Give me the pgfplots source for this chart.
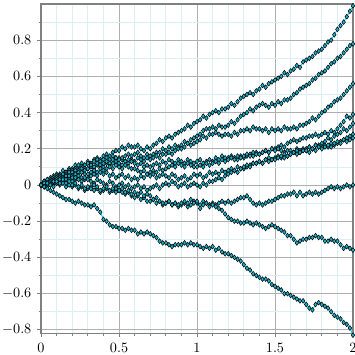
\documentclass[border=0pt]{standalone}
\usepackage{pgfplots}
\pgfplotsset{compat=1.18}
\usepackage{pgfplotstable}
\definecolor{lncol}{RGB}{0,200,230}
\definecolor{mkcol}{RGB}{30,175,200}
\definecolor{majg}{RGB}{175,175,175}
\definecolor{ming}{RGB}{222,238,245}
\definecolor{axg}{RGB}{128,128,128}
\pgfplotstableread{
x p1 p2 p3 p4 p5 p6 p7 p8 p9 p10
0.00 0 0 0 0 0 0 0 0 0 0
0.02 0.02 0.01 0.00 0.02 0.01 -0.01 0.02 0.01 -0.01 -0.01
0.04 0.01 0.03 0.02 0.01 0.03 0.01 0.00 -0.01 0.01 -0.02
0.06 0.04 0.02 0.01 0.03 0.02 0.02 0.01 0.00 0.00 -0.03
0.08 0.05 0.04 0.03 0.02 0.01 0.01 -0.01 0.02 0.02 -0.04
0.10 0.06 0.05 0.03 0.04 0.02 0.03 0.01 0.01 0.02 -0.05
0.12 0.05 0.06 0.05 0.05 0.04 0.02 0.03 0.00 0.01 -0.06
0.14 0.08 0.05 0.04 0.06 0.03 0.04 0.02 0.01 0.03 -0.07
0.16 0.07 0.07 0.06 0.05 0.05 0.03 0.01 -0.01 0.01 -0.08
0.18 0.09 0.08 0.05 0.07 0.04 0.05 0.03 0.00 0.02 -0.08
0.20 0.09 0.08 0.06 0.07 0.05 0.04 0.02 -0.01 0.00 -0.09
0.22 0.11 0.09 0.07 0.08 0.06 0.03 0.04 0.00 0.01 -0.10
0.24 0.10 0.11 0.08 0.07 0.05 0.05 0.03 -0.02 -0.01 -0.09
0.26 0.12 0.10 0.07 0.09 0.07 0.04 0.02 -0.01 0.00 -0.10
0.28 0.11 0.11 0.09 0.08 0.06 0.03 0.04 -0.03 -0.02 -0.11
0.30 0.13 0.12 0.09 0.09 0.06 0.04 0.03 -0.02 -0.01 -0.11
0.32 0.12 0.11 0.10 0.11 0.07 0.05 0.02 -0.01 -0.02 -0.12
0.34 0.14 0.13 0.09 0.10 0.08 0.06 0.01 -0.03 0.00 -0.11
0.36 0.15 0.14 0.11 0.12 0.07 0.05 0.03 -0.02 -0.01 -0.13
0.38 0.14 0.13 0.10 0.11 0.09 0.07 0.02 -0.04 -0.03 -0.15
0.40 0.16 0.14 0.10 0.12 0.08 0.06 0.01 -0.03 -0.02 -0.19
0.42 0.17 0.15 0.12 0.13 0.09 0.07 0.00 -0.02 -0.01 -0.20
0.44 0.16 0.14 0.11 0.12 0.10 0.05 0.02 -0.04 -0.03 -0.22
0.46 0.18 0.16 0.12 0.14 0.09 0.06 0.01 -0.03 -0.02 -0.23
0.48 0.19 0.15 0.13 0.15 0.11 0.04 -0.01 -0.02 -0.04 -0.23
0.50 0.19 0.15 0.12 0.14 0.10 0.05 0.00 -0.03 -0.03 -0.24
0.52 0.21 0.14 0.11 0.15 0.09 0.06 0.01 -0.04 -0.02 -0.24
0.54 0.20 0.16 0.13 0.13 0.11 0.04 -0.01 -0.05 -0.04 -0.25
0.56 0.22 0.17 0.12 0.14 0.10 0.05 0.00 -0.04 -0.03 -0.24
0.58 0.21 0.16 0.14 0.13 0.09 0.03 -0.02 -0.06 -0.05 -0.25
0.60 0.21 0.17 0.13 0.12 0.09 0.04 -0.01 -0.07 -0.04 -0.25
0.62 0.22 0.18 0.15 0.11 0.08 0.03 0.00 -0.06 -0.05 -0.27
0.64 0.20 0.16 0.14 0.12 0.07 0.05 -0.02 -0.08 -0.04 -0.26
0.66 0.19 0.15 0.13 0.10 0.08 0.04 -0.01 -0.07 -0.06 -0.27
0.68 0.21 0.17 0.15 0.11 0.06 0.06 -0.03 -0.09 -0.05 -0.26
0.70 0.20 0.16 0.14 0.10 0.07 0.05 -0.02 -0.09 -0.06 -0.27
0.72 0.22 0.17 0.15 0.11 0.08 0.06 -0.01 -0.08 -0.08 -0.28
0.74 0.23 0.18 0.16 0.12 0.07 0.04 0.00 -0.10 -0.07 -0.29
0.76 0.25 0.18 0.15 0.11 0.09 0.05 -0.02 -0.09 -0.09 -0.31
0.78 0.24 0.20 0.17 0.13 0.08 0.06 0.00 -0.11 -0.10 -0.32
0.80 0.26 0.19 0.17 0.12 0.09 0.05 0.01 -0.10 -0.10 -0.32
0.82 0.27 0.21 0.18 0.14 0.10 0.04 0.00 -0.09 -0.09 -0.33
0.84 0.26 0.20 0.17 0.13 0.11 0.06 0.02 -0.11 -0.11 -0.34
0.86 0.28 0.22 0.19 0.12 0.10 0.05 0.01 -0.10 -0.10 -0.33
0.88 0.29 0.21 0.20 0.14 0.12 0.03 -0.01 -0.12 -0.11 -0.33
0.90 0.30 0.22 0.20 0.13 0.11 0.04 0.00 -0.11 -0.10 -0.33
0.92 0.31 0.24 0.21 0.12 0.10 0.05 0.01 -0.10 -0.09 -0.32
0.94 0.33 0.23 0.23 0.14 0.12 0.03 -0.01 -0.12 -0.10 -0.33
0.96 0.32 0.25 0.22 0.13 0.11 0.04 0.00 -0.11 -0.08 -0.32
0.98 0.34 0.26 0.23 0.12 0.10 0.06 0.01 -0.09 -0.10 -0.33
1.00 0.35 0.27 0.24 0.13 0.10 0.05 0.00 -0.10 -0.09 -0.33
1.02 0.36 0.28 0.25 0.14 0.11 0.06 -0.01 -0.11 -0.13 -0.34
1.04 0.38 0.30 0.27 0.12 0.10 0.04 0.01 -0.09 -0.11 -0.35
1.06 0.37 0.31 0.26 0.13 0.12 0.05 0.00 -0.10 -0.10 -0.34
1.08 0.39 0.31 0.28 0.14 0.11 0.07 0.02 -0.11 -0.12 -0.35
1.10 0.40 0.32 0.28 0.13 0.12 0.06 0.02 -0.10 -0.11 -0.34
1.12 0.41 0.31 0.29 0.15 0.13 0.07 0.03 -0.11 -0.12 -0.36
1.14 0.40 0.33 0.28 0.14 0.12 0.06 0.04 -0.10 -0.13 -0.35
1.16 0.42 0.32 0.27 0.16 0.14 0.08 0.03 -0.09 -0.14 -0.37
1.18 0.42 0.32 0.28 0.15 0.13 0.07 0.05 -0.10 -0.16 -0.38
1.20 0.43 0.33 0.28 0.15 0.14 0.08 0.06 -0.09 -0.18 -0.38
1.22 0.45 0.35 0.27 0.16 0.15 0.09 0.07 -0.10 -0.19 -0.39
1.24 0.44 0.34 0.29 0.15 0.14 0.08 0.08 -0.09 -0.20 -0.40
1.26 0.46 0.36 0.28 0.14 0.16 0.10 0.07 -0.08 -0.20 -0.41
1.28 0.48 0.38 0.30 0.16 0.15 0.09 0.09 -0.07 -0.21 -0.42
1.30 0.49 0.39 0.30 0.15 0.16 0.09 0.10 -0.07 -0.21 -0.44
1.32 0.50 0.40 0.31 0.16 0.17 0.10 0.11 -0.06 -0.20 -0.46
1.34 0.51 0.42 0.30 0.17 0.16 0.11 0.10 -0.08 -0.21 -0.47
1.36 0.50 0.41 0.32 0.16 0.18 0.12 0.12 -0.10 -0.22 -0.49
1.38 0.52 0.43 0.31 0.18 0.17 0.12 0.12 -0.11 -0.21 -0.50
1.40 0.53 0.44 0.31 0.17 0.17 0.13 0.13 -0.10 -0.22 -0.51
1.42 0.55 0.45 0.30 0.18 0.18 0.12 0.12 -0.11 -0.23 -0.52
1.44 0.54 0.44 0.31 0.19 0.19 0.14 0.14 -0.10 -0.24 -0.52
1.46 0.56 0.43 0.29 0.18 0.18 0.15 0.13 -0.09 -0.23 -0.53
1.48 0.57 0.45 0.31 0.20 0.20 0.14 0.14 -0.09 -0.22 -0.55
1.50 0.58 0.44 0.30 0.20 0.19 0.15 0.14 -0.08 -0.23 -0.56
1.52 0.59 0.46 0.31 0.21 0.20 0.16 0.15 -0.07 -0.24 -0.57
1.54 0.60 0.45 0.30 0.22 0.19 0.15 0.16 -0.06 -0.25 -0.58
1.56 0.62 0.47 0.32 0.21 0.18 0.17 0.15 -0.06 -0.26 -0.60
1.58 0.61 0.47 0.31 0.23 0.19 0.16 0.16 -0.05 -0.28 -0.60
1.60 0.63 0.48 0.31 0.24 0.19 0.17 0.17 -0.05 -0.28 -0.61
1.62 0.64 0.50 0.32 0.25 0.18 0.18 0.18 -0.04 -0.30 -0.62
1.64 0.66 0.51 0.31 0.24 0.20 0.19 0.17 -0.06 -0.32 -0.63
1.66 0.65 0.53 0.33 0.25 0.19 0.18 0.18 -0.04 -0.31 -0.64
1.68 0.68 0.54 0.33 0.26 0.20 0.19 0.19 -0.06 -0.30 -0.64
1.70 0.69 0.55 0.34 0.26 0.19 0.20 0.19 -0.05 -0.30 -0.66
1.72 0.70 0.56 0.35 0.27 0.21 0.21 0.18 -0.04 -0.29 -0.68
1.74 0.71 0.58 0.37 0.27 0.20 0.20 0.20 -0.05 -0.29 -0.69
1.76 0.73 0.59 0.36 0.28 0.22 0.22 0.19 -0.04 -0.28 -0.66
1.78 0.74 0.61 0.38 0.27 0.22 0.21 0.21 -0.05 -0.29 -0.65
1.80 0.75 0.62 0.40 0.28 0.23 0.21 0.20 -0.04 -0.29 -0.66
1.82 0.77 0.63 0.41 0.29 0.24 0.22 0.21 -0.03 -0.31 -0.67
1.84 0.79 0.65 0.43 0.28 0.26 0.21 0.22 -0.02 -0.31 -0.68
1.86 0.80 0.67 0.44 0.30 0.25 0.23 0.21 -0.01 -0.30 -0.70
1.88 0.83 0.68 0.46 0.29 0.27 0.22 0.23 -0.02 -0.31 -0.72
1.90 0.86 0.70 0.47 0.31 0.28 0.23 0.24 -0.01 -0.31 -0.73
1.92 0.88 0.71 0.48 0.33 0.29 0.24 0.23 -0.02 -0.33 -0.74
1.94 0.90 0.73 0.50 0.35 0.31 0.25 0.25 -0.01 -0.35 -0.76
1.96 0.93 0.75 0.52 0.38 0.30 0.26 0.24 0.00 -0.34 -0.77
1.98 0.96 0.77 0.54 0.37 0.32 0.27 0.25 -0.01 -0.35 -0.79
2.00 0.99 0.78 0.56 0.39 0.34 0.28 0.26 0.00 -0.36 -0.83
}\paths
\begin{document}
\begin{tikzpicture}
\begin{axis}[
  scale only axis, width=219.7pt, height=232pt,
  xmin=0, xmax=2, ymin=-0.82, ymax=1.0,
  xtick={0,0.5,1,1.5,2}, xticklabels={0,0.5,1,1.5,2},
  ytick={-0.8,-0.6,-0.4,-0.2,0,0.2,0.4,0.6,0.8},
  yticklabels={$-0.8$,$-0.6$,$-0.4$,$-0.2$,0,0.2,0.4,0.6,0.8},
  minor xtick={0.1,0.2,0.3,0.4,0.6,0.7,0.8,0.9,1.1,1.2,1.3,1.4,1.6,1.7,1.8,1.9},
  minor ytick={-0.7,-0.5,-0.3,-0.1,0.1,0.3,0.5,0.7,0.9},
  grid=both,
  major grid style={majg, line width=0.5pt},
  minor grid style={ming, line width=0.5pt},
  axis line style={axg, line width=1pt},
  tick align=outside, tick pos=left,
  major tick length=2.8pt, minor tick length=1.6pt,
  every tick/.style={axg, line width=0.6pt},
  yticklabel style={xshift=-0.5pt},
  xticklabel style={yshift=-0.5pt},
  clip=false,
]
\foreach \c in {p1,p2,p3,p4,p5,p6,p7,p8,p9,p10}{
  \addplot[lncol, line width=0.6pt, mark=diamond*, mark size=1.7pt,
    mark options={fill=mkcol, draw=black, line width=0.35pt}]
    table[x=x, y=\c] {\paths};
}
\end{axis}
\pgfresetboundingbox
\path[use as bounding box] ([shift={(-28.9pt,-15.1pt)}]current axis.south west) rectangle ([shift={(1.4pt,2.8pt)}]current axis.north east);
\end{tikzpicture}
\end{document}
